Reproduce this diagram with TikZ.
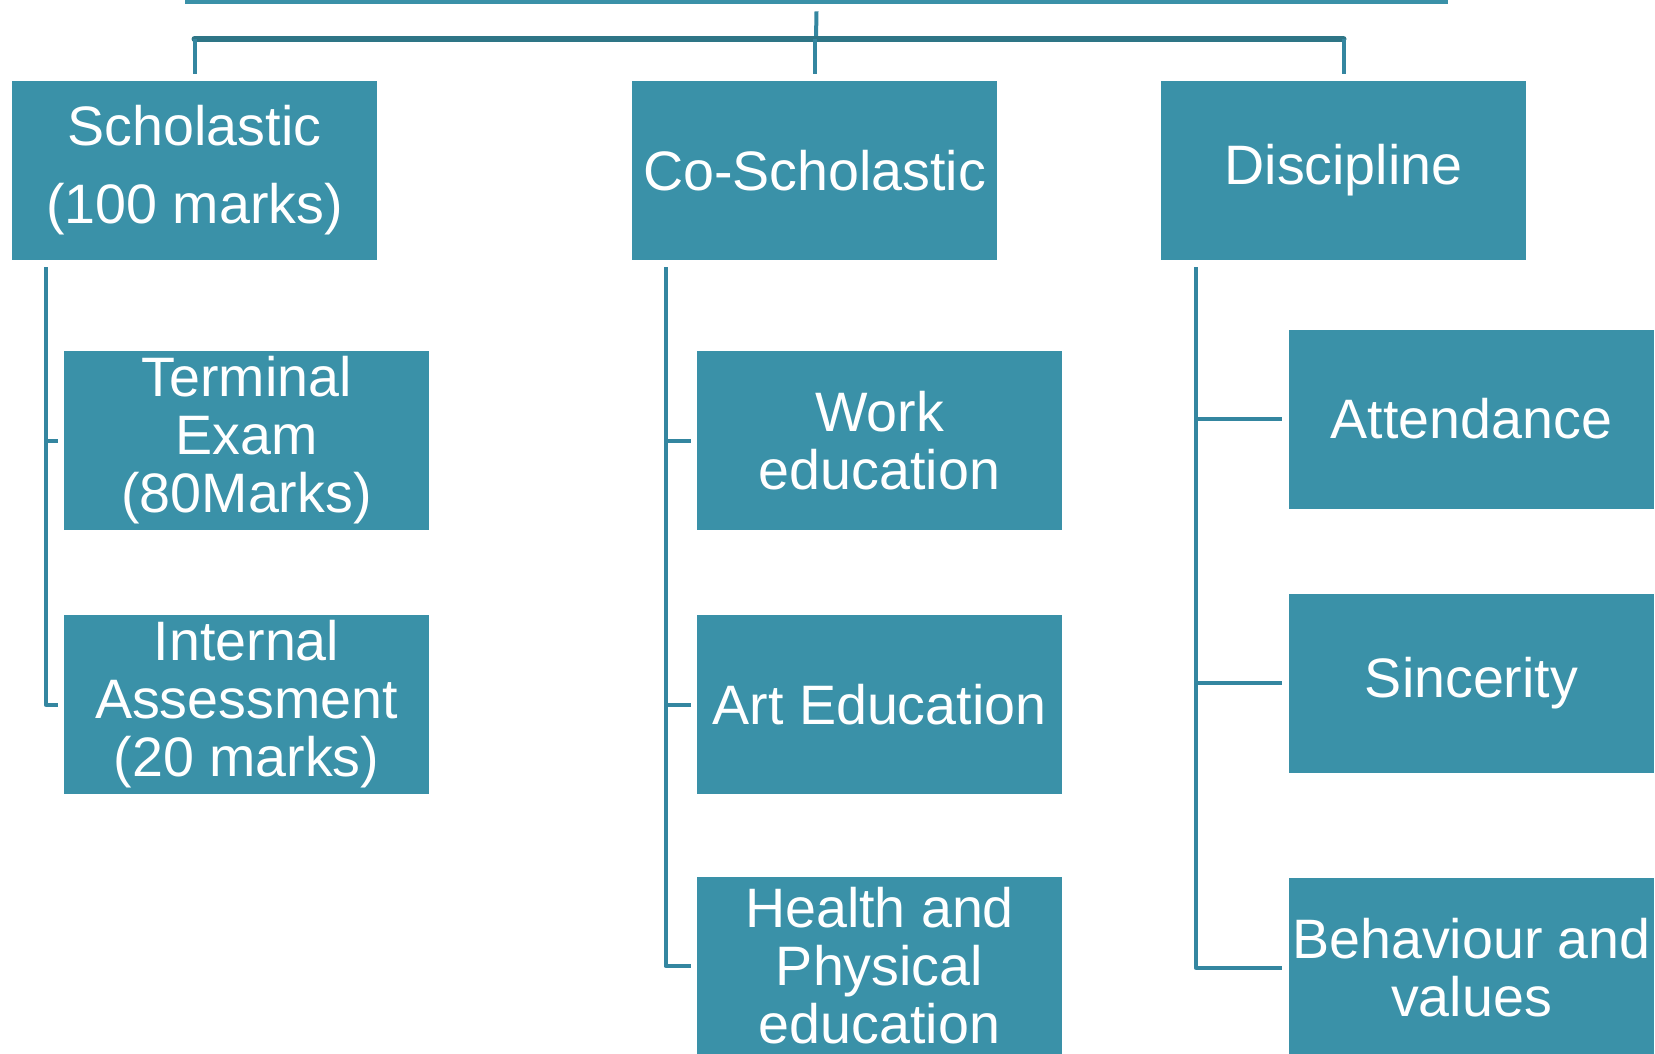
\documentclass[tikz,border=0pt]{standalone}
\usepackage{fontspec}
\setmainfont{Liberation Sans}
\usepackage{color}
\definecolor{boxfill}{HTML}{3A91A8}
\definecolor{linecol}{HTML}{3486A0}
\definecolor{barcol}{HTML}{2E7586}

\begin{document}
\begin{tikzpicture}[x=0.5pt,y=-0.5pt,line cap=round,line join=round,
  box/.style={fill=boxfill,text=white,minimum width=182.5pt,minimum height=89.5pt,inner sep=0pt,align=center,font=\fontsize{27.8}{29}\selectfont},
  trunk/.style={draw=linecol,line width=2pt,line cap=butt}]
\useasboundingbox (0,0) rectangle (1655,1054);
\clip (0,0) rectangle (1655,1054);
\node [box,minimum width=631.5pt] (root) at (816.5,-85.5) {};
\node [box] (schol) at (194.5,170.5) {Scholastic\\[10pt](100 marks)};
\node [box] (cosch) at (814.5,170.5) {Co-Scholastic};
\node [box] (disc) at (1343.5,170.5) {Discipline};
\node [box] (term) at (246.5,440.5) {Terminal\\Exam\\(80Marks)};
\node [box] (intern) at (246.5,704.5) {Internal\\Assessment\\(20 marks)};
\node [box] (work) at (879.5,440.5) {Work\\education};
\node [box] (art) at (879.5,704.5) {Art Education};
\node [box] (health) at (879.5,966) {Health and\\Physical\\education};
\node [box] (attend) at (1471.5,419) {Attendance};
\node [box] (sinc) at (1471.5,683) {Sincerity};
\node [box] (behav) at (1471.5,967.5) {Behaviour and\\values};
% top connectors
\coordinate (hub) at (816,39);
\draw [trunk] ([yshift=-3.5pt]root.south)-- (hub);
\draw [draw=barcol,line width=3pt] (schol.north |- hub)-- (disc.north |- hub);
\foreach \n in {schol,cosch,disc}
  \draw [trunk] (\n.north |- hub)-- ([yshift=3.5pt]\n.north);
% branch trunks
\coordinate (schtop) at ([shift={(34,7)}]schol.south west);
\coordinate (cotop) at ([shift={(34,7)}]cosch.south west);
\coordinate (distop) at ([shift={(35,7)}]disc.south west);
\draw [trunk] (schtop) |- ([xshift=-3pt]intern.west);
\draw [trunk] (schtop |- term.west)-- ([xshift=-3pt]term.west);
\draw [trunk] (cotop) |- ([xshift=-3pt]health.west);
\foreach \n in {work,art}
  \draw [trunk] (cotop |- \n.west)-- ([xshift=-3pt]\n.west);
\draw [trunk] (distop) |- ([xshift=-3.5pt]behav.west);
\foreach \n in {attend,sinc}
  \draw [trunk] (distop |- \n.west)-- ([xshift=-3.5pt]\n.west);
\end{tikzpicture}
\end{document}
